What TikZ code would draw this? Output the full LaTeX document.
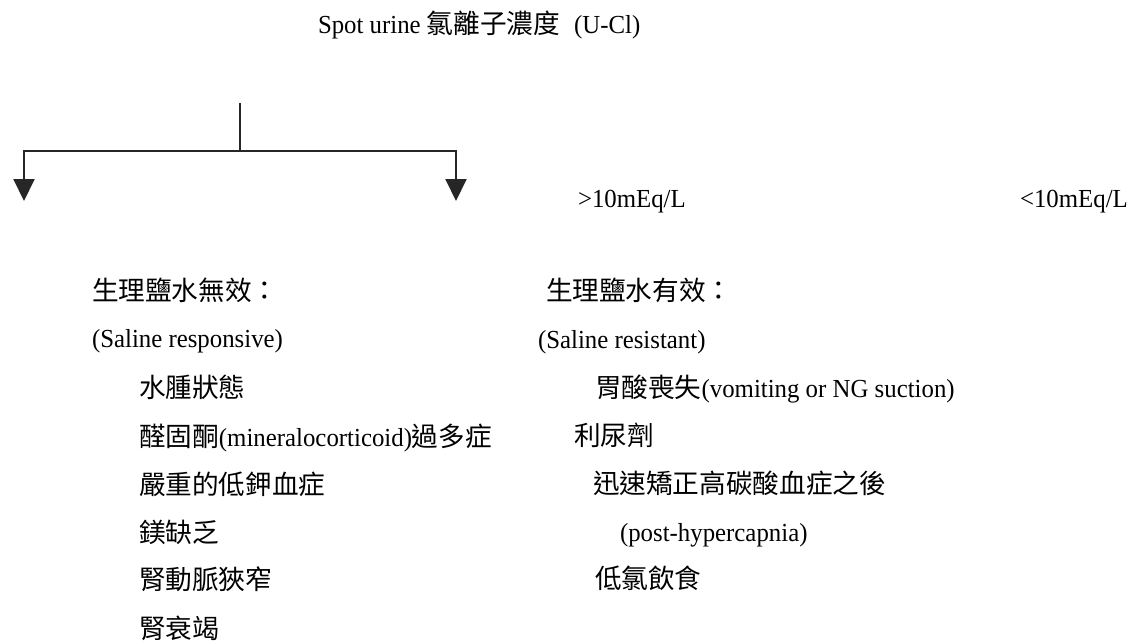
\documentclass[tikz,border=0pt]{standalone}
\usepackage{fontspec}
\setmainfont{Liberation Serif}[FakeStretch=0.955]
\newfontfamily\cjk{Noto Sans CJK TC}[Scale=1.025]
\usetikzlibrary{arrows.meta}
\tikzset{
  txt/.style={anchor=base west, inner sep=0pt, outer sep=0pt, font=\fontsize{26}{30}\selectfont, text=black},
  conn/.style={draw=black!85, line width=2pt},
  arr/.style={conn, -{Triangle[width=21pt,length=22pt]}}
}
\begin{document}
\begin{tikzpicture}[x=1pt,y=-1pt]
\useasboundingbox (0,0) rectangle (1135,641);
% title
\node[txt] (title) at (318,33) {Spot urine {\cjk 氯離子濃度}\hspace{14pt}(U-Cl)};
% tree connectors
\coordinate (top) at (240,103);
\coordinate (mid) at (240,151);
\coordinate (lend) at (24,201);
\coordinate (rend) at (456,201);
\draw[conn] (top) -- (mid);
\draw[arr] (mid) -| (lend);
\draw[arr] (mid) -| (rend);
% thresholds
\node[txt] (gt) at (578,207) {>10mEq/L};
\node[txt] (lt) at (1020,207) {<10mEq/L};
% left column
\node[txt] (l0) at (92,300) {\cjk 生理鹽水無效：};
\node[txt] (l1) at (92,347) {(Saline responsive)};
\node[txt] (l2) at (139,397) {\cjk 水腫狀態};
\node[txt] (l3) at (139,446) {{\cjk 醛固酮}(mineralocorticoid){\cjk 過多症}};
\node[txt] (l4) at (139,494) {\cjk 嚴重的低鉀血症};
\node[txt] (l5) at (139,542) {\cjk 鎂缺乏};
\node[txt] (l6) at (139,589) {\cjk 腎動脈狹窄};
\node[txt] (l7) at (139,638) {\cjk 腎衰竭};
% right column
\node[txt] (r0) at (546,300) {\cjk 生理鹽水有效：};
\node[txt] (r1) at (538,348) {(Saline resistant)};
\node[txt] (r2) at (595,397) {{\cjk 胃酸喪失}(vomiting or NG suction)};
\node[txt] (r3) at (574,445) {\cjk 利尿劑};
\node[txt] (r4) at (593,493) {\cjk 迅速矯正高碳酸血症之後};
\node[txt] (r5) at (620,541) {(post-hypercapnia)};
\node[txt] (r6) at (595,588) {\cjk 低氯飲食};
\end{tikzpicture}
\end{document}
